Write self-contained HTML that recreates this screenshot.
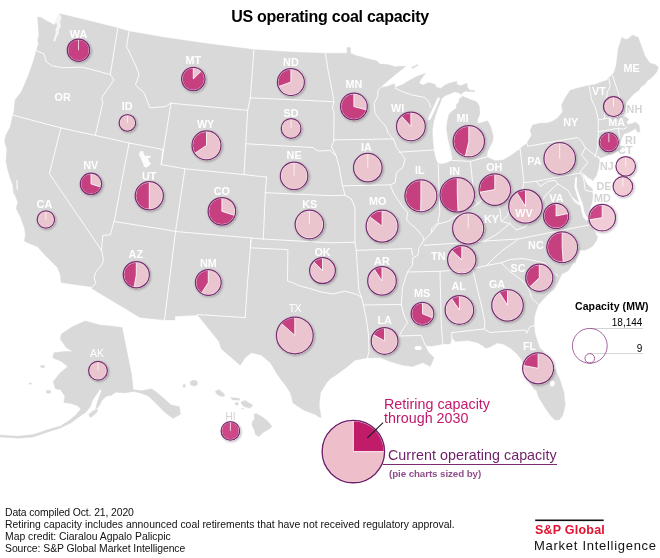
<!DOCTYPE html>
<html lang="en">
<head>
<meta charset="utf-8">
<title>US operating coal capacity</title>
<style>
html,body{margin:0;padding:0;background:#fff;}
body{width:660px;height:558px;position:relative;overflow:hidden;font-family:"Liberation Sans",sans-serif;color:#111;}
.t{position:absolute;white-space:nowrap;line-height:1;will-change:transform;}
#title{left:0;width:660px;top:9.4px;text-align:center;font-weight:bold;font-size:16px;letter-spacing:-0.26px;color:#000;}
.foot{font-size:10.4px;left:5px;color:#111;}
.lg1{color:#c2186b;font-size:14.3px;left:383.8px;letter-spacing:0.02px;}
.lg2{color:#6f1f68;font-size:14.3px;left:387.8px;letter-spacing:0.04px;}
.lg3{color:#8d4f8a;font-size:9.8px;font-weight:bold;left:388.5px;letter-spacing:-0.1px;}
.cap{font-weight:bold;font-size:10.5px;color:#000;letter-spacing:0.1px;}
.num{font-size:10px;color:#000;text-align:right;}
.sp1{color:#e21230;font-weight:bold;font-size:12.5px;left:534.6px;top:524px;letter-spacing:0.22px;}
.sp2{color:#111;font-size:13px;left:534.4px;top:539.2px;letter-spacing:0.72px;}
</style>
</head>
<body>
<svg width="660" height="558" viewBox="0 0 660 558" style="position:absolute;left:0;top:0;will-change:transform">
<defs><filter id="sh" x="-30%" y="-30%" width="160%" height="160%"><feComponentTransfer in="SourceAlpha" result="sa"><feFuncA type="linear" slope="6"/></feComponentTransfer><feGaussianBlur in="sa" stdDeviation="1.1" result="b"/><feOffset in="b" dx="0.8" dy="1" result="o"/><feComposite in="o" in2="sa" operator="out" result="so"/><feComponentTransfer in="so" result="s2"><feFuncA type="linear" slope="0.24"/></feComponentTransfer><feMerge><feMergeNode in="s2"/><feMergeNode in="SourceGraphic"/></feMerge></filter></defs>
<g fill="#d9d9d9" stroke="#d9d9d9" stroke-width="0.4" stroke-linejoin="round">
<polygon points="37.6,17.0 41.0,17.5 46.0,20.5 51.0,23.0 53.5,24.5 55.5,21.0 58.0,17.0 59.5,14.0 61.0,14.0 90.0,21.0 118.0,28.0 129.0,31.3 165.0,37.6 210.0,44.0 254.0,49.6 290.0,52.0 325.5,53.2 347.0,53.2 347.0,47.6 350.5,47.6 350.5,53.2 356.0,55.5 362.6,57.2 370.0,59.2 376.7,60.8 380.0,64.0 385.0,64.2 390.0,65.0 395.0,66.7 400.0,66.2 405.8,66.3 398.0,72.5 390.0,79.0 383.0,85.0 380.8,87.5 387.0,86.5 394.2,83.7 395.3,87.6 403.3,84.2 410.0,80.0 418.3,75.8 425.8,73.3 421.0,79.0 419.2,83.3 423.3,85.0 428.3,82.5 435.0,84.2 436.7,87.5 440.8,88.3 444.2,85.4 449.2,83.3 454.2,82.1 456.7,81.3 457.1,84.6 460.8,85.8 464.2,84.2 467.1,83.3 467.5,87.5 470.0,90.3 474.8,90.6 474.6,91.8 469.2,91.5 465.0,91.3 462.1,92.9 461.3,94.6 459.2,92.9 455.0,91.7 451.7,92.9 448.3,94.6 445.0,95.8 441.8,98.6 440.2,103.0 438.2,107.7 435.6,115.0 433.6,121.4 432.4,130.0 432.8,140.0 433.8,150.0 435.5,158.0 437.3,162.6 440.5,164.0 445.0,163.6 449.0,162.0 451.7,160.3 452.5,158.3 450.8,150.0 448.3,140.0 446.4,128.6 447.3,121.4 449.1,114.1 453.0,110.5 456.3,108.0 456.5,104.2 458.8,102.5 459.2,99.2 462.5,96.3 466.7,97.9 471.7,100.0 476.7,101.7 479.2,105.8 480.0,113.3 477.5,120.0 477.5,123.3 482.5,122.5 487.5,120.8 490.8,126.7 493.3,136.7 492.5,141.7 490.0,146.7 487.5,151.7 486.7,156.7 495.0,160.8 503.3,160.0 511.7,155.0 518.3,150.0 526.7,143.3 531.7,135.0 530.1,130.4 532.6,124.9 540.0,123.3 547.7,122.9 553.0,121.0 557.7,117.9 562.7,111.6 561.4,105.3 565.0,98.0 570.2,90.3 580.0,87.5 589.0,85.3 595.0,84.4 600.0,82.5 607.5,80.0 608.2,77.7 611.9,75.2 613.8,72.7 616.3,65.1 617.0,58.9 618.2,48.8 622.0,36.9 625.1,39.4 628.2,38.8 632.6,35.0 638.3,37.5 641.4,46.3 645.2,56.3 650.2,63.3 655.2,64.5 658.4,67.0 657.1,71.4 654.0,75.2 650.2,78.9 647.7,80.2 645.2,84.0 641.4,86.5 638.9,90.2 635.2,92.7 631.4,96.5 628.5,100.0 626.4,102.5 625.2,110.0 625.8,116.3 628.9,119.5 626.4,122.0 628.3,124.5 632.0,123.6 635.2,122.0 639.0,125.1 640.2,131.4 637.7,132.6 635.6,128.6 631.4,131.0 628.3,132.6 623.9,133.9 621.4,138.9 618.9,145.2 612.0,150.0 605.0,153.3 597.5,155.9 595.5,155.2 599.5,159.7 598.7,167.7 596.3,175.8 593.0,180.6 588.0,177.5 584.2,174.0 581.8,172.0 583.5,177.0 585.5,181.5 587.5,184.7 592.3,188.7 593.0,196.8 591.5,204.0 589.7,210.0 588.2,214.7 587.6,219.0 589.0,222.5 592.0,227.5 595.5,233.0 597.6,237.3 596.5,240.8 592.3,246.5 585.3,250.3 580.0,250.0 577.0,257.0 575.2,262.9 573.3,263.3 568.3,270.8 561.7,274.2 558.3,281.7 554.2,289.2 548.3,294.2 543.3,299.2 538.3,305.0 535.8,311.7 534.2,318.3 534.2,325.8 535.0,333.3 537.5,341.7 540.0,348.3 542.6,350.2 551.4,362.7 556.0,371.0 560.2,380.3 564.0,392.8 565.2,405.4 562.7,415.4 559.0,420.0 555.2,420.0 551.4,416.7 545.2,407.9 538.9,397.8 536.4,390.3 533.5,388.5 530.3,383.0 527.0,375.0 524.2,366.0 521.8,360.0 517.0,353.9 510.9,348.6 503.6,344.2 497.6,343.0 492.7,345.5 489.0,347.5 485.5,348.3 483.0,346.0 478.2,343.0 468.5,340.6 455.4,341.4 452.5,338.0 450.0,344.0 442.8,343.9 430.3,346.5 425.3,346.5 429.0,352.7 434.1,357.7 430.3,366.5 422.8,362.7 412.7,366.5 402.7,365.3 390.2,361.5 380.2,357.7 367.6,357.7 355.0,360.2 347.6,366.5 337.5,374.0 330.0,379.0 326.7,382.8 320.5,392.8 319.2,405.4 321.2,417.8 318.0,416.6 315.5,414.6 304.2,410.4 292.9,402.9 290.4,392.8 285.4,385.3 277.8,375.3 270.3,362.7 261.5,355.2 251.5,352.7 245.2,357.7 240.2,365.3 230.2,356.5 221.4,349.0 218.9,341.4 208.9,328.9 197.6,315.1 175.0,316.3 175.0,320.0 164.5,320.0 140.0,317.5 91.8,288.6 92.4,287.0 61.1,282.5 60.2,274.0 57.4,267.4 49.8,259.9 43.3,253.3 37.6,246.7 28.2,243.0 24.4,241.1 25.4,234.5 24.4,227.9 20.7,217.6 16.0,208.2 17.9,202.5 15.0,195.0 13.6,193.6 12.8,185.1 10.2,178.3 7.7,169.7 6.0,161.2 6.8,149.3 4.5,141.0 6.0,134.8 10.2,127.1 12.8,115.2 14.0,110.9 15.0,100.1 21.5,91.5 27.9,76.5 33.3,61.5 36.5,49.7 38.5,44.0 37.8,40.0 38.9,35.0 38.3,27.0"/>
<polygon points="598.0,155.5 610.0,151.5 622.0,147.5 621.5,149.3 610.0,154.5 600.0,158.0"/>
<polygon points="85.3,320.9 100.3,325.1 115.3,326.4 122.1,327.6 131.7,375.0 133.2,389.6 141.2,390.7 151.8,388.8 160.3,395.2 170.9,404.7 179.4,406.8 180.5,414.2 173.0,418.5 164.5,412.1 156.1,403.6 148.6,396.2 141.2,393.2 133.8,391.4 124.2,393.0 115.8,392.2 111.5,395.2 106.2,396.2 102.0,400.5 98.5,407.0 95.6,408.9 97.0,403.0 99.5,396.0 101.5,390.5 100.3,388.8 98.5,391.5 94.5,397.5 92.4,400.5 90.3,406.8 86.1,412.1 79.7,416.4 71.2,422.7 60.6,428.0 50.0,431.2 33.3,437.0 18.2,438.2 0.0,436.9 0.0,435.0 18.2,436.3 33.3,434.6 50.0,429.1 60.6,425.9 69.1,420.6 75.5,415.3 80.8,408.9 77.6,405.8 71.2,403.6 63.8,402.6 64.8,396.2 60.6,389.8 55.3,388.8 53.2,381.4 60.2,372.8 67.7,366.5 61.4,361.5 52.7,357.7 53.9,352.7 63.9,351.5 72.7,351.5 66.4,347.7 60.2,338.9 61.4,333.9 72.7,326.4"/>
<polygon points="88.8,414.2 93.5,410.6 97.7,409.0 97.1,412.1 92.4,416.4 89.9,417.4"/>
<polygon points="411.5,67.6 417.5,64.4 418.2,65.4 412.6,68.6"/>
<ellipse cx="42.6" cy="366.5" rx="2.2" ry="1.2"/>
<ellipse cx="48.5" cy="391.8" rx="2.4" ry="1.6"/>
<ellipse cx="30.3" cy="383.6" rx="1.2" ry="0.8"/>
<polygon points="254.0,414.0 256.7,413.8 260.9,416.1 266.2,419.8 269.4,423.0 272.0,426.7 267.8,429.9 263.0,432.6 258.8,436.8 255.6,434.7 254.5,430.5 252.4,426.2 251.9,422.5 254.5,418.8"/>
<polygon points="241.0,402.0 245.2,400.5 249.0,403.0 252.8,405.1 250.3,408.0 245.2,407.0 242.2,405.0"/>
<polygon points="230.7,397.4 239.7,398.6 239.7,400.2 232.0,399.8"/>
<polygon points="235.0,402.8 238.0,402.5 238.2,405.0 235.8,405.2"/>
<polygon points="215.2,391.3 219.0,389.5 224.0,393.8 224.7,396.3 220.2,396.3 216.4,393.8"/>
<polygon points="190.0,382.0 193.0,380.0 197.0,381.0 197.6,384.5 194.0,386.3 190.8,385.0"/>
<polygon points="182.8,385.0 184.8,384.2 185.5,387.0 183.6,387.6"/>
<polygon points="241.5,408.2 243.5,408.2 243.0,409.6"/>
</g>
<g fill="#fff">
<polygon points="58.6,15.5 60.6,14.6 61.6,18.0 60.2,22.0 61.0,26.0 59.0,30.0 58.6,34.0 56.6,37.0 55.4,41.2 53.0,41.4 54.4,37.0 55.8,33.0 55.6,29.0 57.2,26.0 56.2,23.0 54.0,25.0 52.6,23.4 56.0,20.0" fill-opacity="0.72"/>
<polygon points="575.4,177.0 574.4,187.0 577.4,197.0 580.4,205.0 581.8,212.5 583.5,217.8 586.5,220.8 588.4,218.4 585.8,215.6 584.2,211.5 582.8,204.0 579.8,196.3 576.6,187.0 577.0,177.0"/>
<polygon points="581.0,205.5 576.0,202.0 572.0,198.0 572.5,197.2 576.6,200.8 581.5,203.8"/>
<polygon points="427.8,119.2 429.8,114.5 433.3,107.0 437.3,98.6 438.8,96.9 439.9,98.4 436.3,107.3 432.4,115.5 429.8,120.2"/>
<polygon points="139.8,151.4 143.2,151.0 143.9,154.0 145.5,156.3 147.0,155.5 150.8,156.3 150.4,157.8 147.7,158.2 149.2,161.6 151.1,163.5 149.2,165.8 146.2,167.7 143.9,166.5 142.8,162.7 141.3,159.7 140.5,156.7 139.0,155.9 139.4,153.3" fill-opacity="0.9"/>
<polygon points="16.2,180.0 17.6,180.6 17.9,190.0 16.6,189.4" fill-opacity="0.8"/>
<ellipse cx="552.3" cy="383.5" rx="2.4" ry="2.9"/>
<ellipse cx="418.2" cy="348" rx="3.6" ry="2"/>
</g>
<g fill="none" stroke="#fff" stroke-width="0.9" stroke-linejoin="round" stroke-linecap="round">
<polyline points="36.5,50.7 44.0,54.0 46.2,61.5 51.5,65.8 62.7,67.7 82.7,67.2 110.3,74.5"/>
<polyline points="117.8,28.0 110.3,74.5"/>
<polyline points="129.0,31.3 126.6,46.4 136.7,67.7 139.0,75.0 135.4,85.0 144.0,92.8 150.0,107.8 165.5,106.6 170.5,103.2"/>
<polyline points="110.3,74.5 114.0,80.0 101.5,97.8 102.8,102.8 95.3,135.4"/>
<polyline points="12.5,115.0 60.9,127.9 95.3,135.4 129.1,143.0 162.9,149.5"/>
<polyline points="60.9,127.9 49.4,173.8 101.5,250.3"/>
<polyline points="101.5,250.3 103.4,258.9 102.5,263.7 95.9,272.1 94.0,277.8 95.9,283.4 92.4,287.0"/>
<polyline points="129.1,143.0 114.1,221.5 110.3,234.8 102.8,235.3 101.5,250.3"/>
<polyline points="114.1,221.5 165.0,229.5 175.5,231.5 263.3,239.0 330.0,242.8 355.0,242.3"/>
<polyline points="171.0,103.0 161.2,164.6 185.0,168.8 244.0,174.6 266.6,177.1"/>
<polyline points="162.9,149.5 161.2,164.6"/>
<polyline points="185.0,168.8 175.5,231.5 164.5,320.0"/>
<polyline points="170.5,103.2 247.7,110.3"/>
<polyline points="254.0,49.6 250.3,97.8 247.7,110.3 244.0,174.6"/>
<polyline points="250.3,97.8 330.0,101.5 334.0,102.0"/>
<polyline points="325.5,53.2 328.0,70.0 332.0,90.0 334.0,102.0 332.3,108.0 334.0,112.0 333.8,141.0"/>
<polyline points="246.5,143.8 312.9,147.5 318.0,151.0 330.0,150.5 336.0,155.5"/>
<polyline points="333.8,141.0 331.5,147.0 336.0,155.5 339.0,166.0 342.5,185.9 345.0,195.2 351.3,198.9 355.0,207.7 355.0,242.3 356.3,250.3 358.8,290.0 361.6,297.5 363.5,305.0 366.5,320.0 368.5,335.0 369.0,351.0 367.5,357.7"/>
<polyline points="266.6,177.1 265.3,192.7 263.3,239.0"/>
<polyline points="265.3,192.7 330.0,195.7 345.0,195.2"/>
<polyline points="250.8,240.0 250.3,247.8 287.9,249.6 287.5,281.0 293.0,283.0 300.0,286.0 311.5,289.0 322.0,292.2 333.0,294.0 344.5,291.2 352.0,293.0 357.3,294.6 361.6,297.5"/>
<polyline points="251.3,238.0 247.7,280.0 245.2,317.6 197.5,314.5"/>
<polyline points="333.8,139.9 393.5,138.9"/>
<polyline points="342.5,185.9 390.2,184.8"/>
<polyline points="380.8,87.5 378.3,90.0 377.5,96.7 374.2,103.3 375.0,113.3 380.0,120.0 385.8,126.7 388.3,133.0 394.0,140.0 396.5,147.5 405.2,158.8 402.7,167.6 396.4,172.6 395.2,182.6 390.2,185.1 394.0,194.0 401.5,205.2 407.7,212.7 406.5,220.2 416.5,229.0 422.8,236.5 424.0,240.3 419.0,247.8 417.8,255.3 412.7,257.8 412.5,265.0 407.5,272.0 402.5,287.5 401.3,304.5 403.8,315.0 407.5,322.5 402.5,330.0 399.0,336.0 421.4,335.3 423.5,341.0 425.6,345.9 430.3,346.5"/>
<polyline points="399.0,152.2 433.6,150.0"/>
<polyline points="395.0,88.0 402.0,91.5 412.0,95.0 425.0,97.5 429.2,102.5 430.5,107.5"/>
<polyline points="438.2,163.8 439.8,212.7 437.8,222.7 431.6,229.0 431.6,232.8"/>
<polyline points="424.0,240.3 431.6,232.8 437.8,224.0 447.9,221.5 455.4,216.5 465.0,212.0 477.9,203.9 483.0,199.0 495.0,201.4 500.0,210.0 501.3,221.5 510.0,223.5"/>
<polyline points="470.4,161.3 474.2,197.7 477.9,203.9"/>
<polyline points="451.7,160.5 470.4,161.3 486.7,157.0"/>
<polyline points="424.0,245.3 470.0,242.3 485.0,241.0 518.3,239.0 546.7,233.3 589.0,225.0"/>
<polyline points="356.3,250.4 411.5,248.5 412.7,255.3"/>
<polyline points="363.8,305.0 401.3,304.5"/>
<polyline points="407.5,272.0 440.0,271.3 472.5,268.8 486.7,265.5 493.0,259.0 503.0,250.0 513.0,243.0 518.3,239.0"/>
<polyline points="486.7,265.5 501.7,262.7"/>
<polyline points="440.0,271.3 441.3,325.0 442.8,343.9"/>
<polyline points="472.5,268.8 481.3,305.0 485.0,322.5 484.2,328.9"/>
<polyline points="452.0,341.0 451.6,332.7 484.2,328.9 490.0,332.5 525.8,330.0 526.7,333.3 530.0,326.7 534.2,325.8"/>
<polyline points="501.7,262.7 503.3,265.0 510.0,271.7 518.3,277.5 525.0,283.0 529.5,291.0 531.7,298.3 538.3,304.2"/>
<polyline points="501.7,262.7 510.0,259.5 523.0,258.5 531.0,260.0 545.0,263.0 553.0,271.5 557.5,276.0"/>
<polyline points="510.0,223.5 497.0,234.0 485.0,241.0"/>
<polyline points="510.0,223.5 516.0,230.0 525.0,227.0 533.0,217.0 540.0,205.0 545.0,196.0 552.0,189.0 557.8,183.9"/>
<polyline points="523.9,182.7 521.4,192.7 510.1,205.2 507.6,215.3 501.3,221.5"/>
<polyline points="518.3,150.0 520.2,148.8 523.9,182.7 536.4,181.2 580.3,173.0"/>
<polyline points="536.4,181.2 540.2,186.4 547.7,181.4 555.3,180.2 557.8,183.9 567.8,190.2 575.3,202.7 580.3,205.2"/>
<polyline points="526.4,141.8 527.7,146.3 577.8,137.5 581.6,141.3 585.3,147.6 581.6,155.1 587.9,162.6 580.3,171.4 581.3,174.5"/>
<polyline points="585.3,147.6 595.8,156.0"/>
<polyline points="589.0,85.3 591.7,100.0 595.8,108.3 598.3,120.0 598.3,133.3 597.5,148.3 595.0,156.7"/>
<polyline points="598.3,120.0 623.3,115.0 628.0,117.5"/>
<polyline points="598.3,131.7 618.3,128.3 623.3,129.2 627.0,127.0"/>
<polyline points="618.3,128.3 619.7,138.5"/>
<polyline points="608.8,77.7 610.1,86.5 607.5,91.5 606.0,100.0 605.0,110.0 604.5,119.0"/>
<polyline points="612.6,75.8 618.2,92.7 620.1,100.0 622.5,110.0 625.6,116.0"/>
<polyline points="581.3,174.5 583.5,178.0 585.3,190.2 595.4,192.7"/>
</g>
<g font-family="Liberation Sans, sans-serif" font-weight="bold" font-size="10.8" text-anchor="middle">
<text x="78.5" y="37.8" fill="#ffffff">WA</text>
<text x="62.7" y="100.9" fill="#ffffff">OR</text>
<text x="127.2" y="109.9" fill="#ffffff">ID</text>
<text x="193.3" y="64.1" fill="#ffffff">MT</text>
<text x="290.9" y="65.9" fill="#ffffff">ND</text>
<text x="291.1" y="117.2" fill="#ffffff">SD</text>
<text x="205.6" y="127.8" fill="#ffffff">WY</text>
<text x="353.8" y="87.9" fill="#ffffff">MN</text>
<text x="397.7" y="112.2" fill="#ffffff">WI</text>
<text x="462.4" y="121.8" fill="#ffffff">MI</text>
<text x="631.7" y="72.1" fill="#ffffff">ME</text>
<text x="599.0" y="95.4" fill="#ffffff">VT</text>
<text x="570.8" y="125.9" fill="#ffffff">NY</text>
<text x="616.7" y="126.4" fill="#ffffff">MA</text>
<text x="634.4" y="113.1" fill="#d4d4d4">NH</text>
<text x="630.5" y="143.9" fill="#d4d4d4">RI</text>
<text x="625.3" y="154.1" fill="#d4d4d4">CT</text>
<text x="606.8" y="169.9" fill="#d4d4d4">NJ</text>
<text x="604.0" y="190.1" fill="#d4d4d4">DE</text>
<text x="602.3" y="202.1" fill="#d4d4d4">MD</text>
<text x="90.8" y="169.0" fill="#ffffff">NV</text>
<text x="44.4" y="207.8" fill="#ffffff">CA</text>
<text x="149.2" y="180.3" fill="#ffffff">UT</text>
<text x="135.8" y="258.2" fill="#ffffff">AZ</text>
<text x="294.1" y="159.4" fill="#ffffff">NE</text>
<text x="221.9" y="195.3" fill="#ffffff">CO</text>
<text x="309.7" y="208.3" fill="#ffffff">KS</text>
<text x="208.3" y="266.9" fill="#ffffff">NM</text>
<text x="322.5" y="256.0" fill="#ffffff">OK</text>
<text x="366.4" y="150.9" fill="#ffffff">IA</text>
<text x="419.8" y="174.0" fill="#ffffff">IL</text>
<text x="454.6" y="174.7" fill="#ffffff">IN</text>
<text x="494.3" y="171.0" fill="#ffffff">OH</text>
<text x="534.4" y="165.2" fill="#ffffff">PA</text>
<text x="377.6" y="204.8" fill="#ffffff">MO</text>
<text x="491.5" y="222.9" fill="#ffffff">KY</text>
<text x="438.3" y="259.7" fill="#ffffff">TN</text>
<text x="381.9" y="265.0" fill="#ffffff">AR</text>
<text x="556.4" y="202.1" fill="#ffffff">VA</text>
<text x="535.9" y="248.7" fill="#ffffff">NC</text>
<text x="518.0" y="271.9" fill="#ffffff">SC</text>
<text x="497.0" y="288.4" fill="#ffffff">GA</text>
<text x="294.9" y="311.9" fill="#ffffff" font-weight="normal" font-size="10.6" letter-spacing="-0.6">TX</text>
<text x="384.7" y="324.0" fill="#ffffff">LA</text>
<text x="422.0" y="296.9" fill="#ffffff">MS</text>
<text x="458.6" y="290.2" fill="#ffffff">AL</text>
<text x="529.5" y="350.0" fill="#ffffff">FL</text>
<text x="97.0" y="356.9" fill="#ffffff" font-weight="normal" font-size="10.5">AK</text>
<text x="230.4" y="419.6" fill="#d4d4d4" font-weight="normal" font-size="10.5">HI</text>
</g>
<g filter="url(#sh)">
<g opacity="0.8">
<circle cx="78.5" cy="50.2" r="11.18" fill="#c11c6a"/>
</g>
<path d="M78.5,50.2 L78.5,39.03" fill="none" stroke="#fff" stroke-width="0.8" stroke-opacity="0.9"/>
<circle cx="78.5" cy="50.2" r="10.68" fill="none" stroke="#fff" stroke-width="0.8" stroke-opacity="0.9"/>
<circle cx="78.5" cy="50.2" r="11.18" fill="none" stroke="#792d71" stroke-width="1.25"/>
<g opacity="0.8">
<circle cx="193.3" cy="79.0" r="11.68" fill="#eebfcb"/>
<path d="M193.3,79.0 L201.56,70.74 A11.68,11.68 0 1 1 193.30,67.33 Z" fill="#c11c6a"/>
</g>
<path d="M201.56,70.74 L193.3,79.0 L193.30,67.33" fill="none" stroke="#fff" stroke-width="0.9" stroke-opacity="0.95"/>
<circle cx="193.3" cy="79.0" r="11.18" fill="none" stroke="#fff" stroke-width="0.8" stroke-opacity="0.9"/>
<circle cx="193.3" cy="79.0" r="11.68" fill="none" stroke="#792d71" stroke-width="1.25"/>
<g opacity="0.8">
<circle cx="290.9" cy="82.1" r="13.47" fill="#eebfcb"/>
<path d="M290.9,82.1 L278.22,86.66 A13.47,13.47 0 0 1 290.90,68.62 Z" fill="#c11c6a"/>
</g>
<path d="M278.22,86.66 L290.9,82.1 L290.90,68.62" fill="none" stroke="#fff" stroke-width="0.9" stroke-opacity="0.95"/>
<circle cx="290.9" cy="82.1" r="12.97" fill="none" stroke="#fff" stroke-width="0.8" stroke-opacity="0.9"/>
<circle cx="290.9" cy="82.1" r="13.47" fill="none" stroke="#792d71" stroke-width="1.25"/>
<g opacity="0.8">
<circle cx="353.9" cy="106.6" r="13.38" fill="#eebfcb"/>
<path d="M353.9,106.6 L366.85,109.93 A13.38,13.38 0 1 1 353.90,93.22 Z" fill="#c11c6a"/>
</g>
<path d="M366.85,109.93 L353.9,106.6 L353.90,93.22" fill="none" stroke="#fff" stroke-width="0.9" stroke-opacity="0.95"/>
<circle cx="353.9" cy="106.6" r="12.88" fill="none" stroke="#fff" stroke-width="0.8" stroke-opacity="0.9"/>
<circle cx="353.9" cy="106.6" r="13.38" fill="none" stroke="#792d71" stroke-width="1.25"/>
<g opacity="0.8">
<circle cx="410.9" cy="126.4" r="14.38" fill="#eebfcb"/>
<path d="M410.9,126.4 L401.13,115.86 A14.38,14.38 0 0 1 410.90,112.03 Z" fill="#c11c6a"/>
</g>
<path d="M401.13,115.86 L410.9,126.4 L410.90,112.03" fill="none" stroke="#fff" stroke-width="0.9" stroke-opacity="0.95"/>
<circle cx="410.9" cy="126.4" r="13.88" fill="none" stroke="#fff" stroke-width="0.8" stroke-opacity="0.9"/>
<circle cx="410.9" cy="126.4" r="14.38" fill="none" stroke="#792d71" stroke-width="1.25"/>
<g opacity="0.8">
<circle cx="468.8" cy="141.3" r="15.68" fill="#eebfcb"/>
<path d="M468.8,141.3 L465.28,156.58 A15.68,15.68 0 0 1 468.80,125.63 Z" fill="#c11c6a"/>
</g>
<path d="M465.28,156.58 L468.8,141.3 L468.80,125.63" fill="none" stroke="#fff" stroke-width="0.9" stroke-opacity="0.95"/>
<circle cx="468.8" cy="141.3" r="15.18" fill="none" stroke="#fff" stroke-width="0.8" stroke-opacity="0.9"/>
<circle cx="468.8" cy="141.3" r="15.68" fill="none" stroke="#792d71" stroke-width="1.25"/>
<g opacity="0.8">
<circle cx="127.4" cy="122.9" r="8.28" fill="#eebfcb"/>
</g>
<path d="M127.4,122.9 L127.4,114.62" fill="none" stroke="#fff" stroke-width="0.8" stroke-opacity="0.9"/>
<circle cx="127.4" cy="122.9" r="7.78" fill="none" stroke="#fff" stroke-width="0.8" stroke-opacity="0.9"/>
<circle cx="127.4" cy="122.9" r="8.28" fill="none" stroke="#792d71" stroke-width="1.25"/>
<g opacity="0.8">
<circle cx="206.5" cy="145.4" r="14.47" fill="#eebfcb"/>
<path d="M206.5,145.4 L194.53,153.54 A14.47,14.47 0 0 1 206.50,130.93 Z" fill="#c11c6a"/>
</g>
<path d="M194.53,153.54 L206.5,145.4 L206.50,130.93" fill="none" stroke="#fff" stroke-width="0.9" stroke-opacity="0.95"/>
<circle cx="206.5" cy="145.4" r="13.97" fill="none" stroke="#fff" stroke-width="0.8" stroke-opacity="0.9"/>
<circle cx="206.5" cy="145.4" r="14.47" fill="none" stroke="#792d71" stroke-width="1.25"/>
<g opacity="0.8">
<circle cx="291.1" cy="128.4" r="9.88" fill="#eebfcb"/>
</g>
<path d="M291.1,128.4 L291.1,118.53" fill="none" stroke="#fff" stroke-width="0.8" stroke-opacity="0.9"/>
<circle cx="291.1" cy="128.4" r="9.38" fill="none" stroke="#fff" stroke-width="0.8" stroke-opacity="0.9"/>
<circle cx="291.1" cy="128.4" r="9.88" fill="none" stroke="#792d71" stroke-width="1.25"/>
<g opacity="0.8">
<circle cx="294.1" cy="175.9" r="13.78" fill="#eebfcb"/>
</g>
<path d="M294.1,175.9 L294.1,162.12" fill="none" stroke="#fff" stroke-width="0.8" stroke-opacity="0.9"/>
<circle cx="294.1" cy="175.9" r="13.28" fill="none" stroke="#fff" stroke-width="0.8" stroke-opacity="0.9"/>
<circle cx="294.1" cy="175.9" r="13.78" fill="none" stroke="#792d71" stroke-width="1.25"/>
<g opacity="0.8">
<circle cx="367.8" cy="167.7" r="14.28" fill="#eebfcb"/>
</g>
<path d="M367.8,167.7 L367.8,153.42" fill="none" stroke="#fff" stroke-width="0.8" stroke-opacity="0.9"/>
<circle cx="367.8" cy="167.7" r="13.78" fill="none" stroke="#fff" stroke-width="0.8" stroke-opacity="0.9"/>
<circle cx="367.8" cy="167.7" r="14.28" fill="none" stroke="#792d71" stroke-width="1.25"/>
<g opacity="0.8">
<circle cx="420.9" cy="195.8" r="15.97" fill="#eebfcb"/>
<path d="M420.9,195.8 L420.70,211.77 A15.97,15.97 0 0 1 420.90,179.83 Z" fill="#c11c6a"/>
</g>
<path d="M420.70,211.77 L420.9,195.8 L420.90,179.83" fill="none" stroke="#fff" stroke-width="0.9" stroke-opacity="0.95"/>
<circle cx="420.9" cy="195.8" r="15.47" fill="none" stroke="#fff" stroke-width="0.8" stroke-opacity="0.9"/>
<circle cx="420.9" cy="195.8" r="15.97" fill="none" stroke="#792d71" stroke-width="1.25"/>
<g opacity="0.8">
<circle cx="457.3" cy="194.8" r="17.27" fill="#eebfcb"/>
<path d="M457.3,194.8 L458.06,212.06 A17.27,17.27 0 1 1 457.30,177.53 Z" fill="#c11c6a"/>
</g>
<path d="M458.06,212.06 L457.3,194.8 L457.30,177.53" fill="none" stroke="#fff" stroke-width="0.9" stroke-opacity="0.95"/>
<circle cx="457.3" cy="194.8" r="16.77" fill="none" stroke="#fff" stroke-width="0.8" stroke-opacity="0.9"/>
<circle cx="457.3" cy="194.8" r="17.27" fill="none" stroke="#792d71" stroke-width="1.25"/>
<g opacity="0.8">
<circle cx="494.8" cy="189.6" r="15.77" fill="#eebfcb"/>
<path d="M494.8,189.6 L479.27,192.36 A15.77,15.77 0 0 1 494.80,173.82 Z" fill="#c11c6a"/>
</g>
<path d="M479.27,192.36 L494.8,189.6 L494.80,173.82" fill="none" stroke="#fff" stroke-width="0.9" stroke-opacity="0.95"/>
<circle cx="494.8" cy="189.6" r="15.27" fill="none" stroke="#fff" stroke-width="0.8" stroke-opacity="0.9"/>
<circle cx="494.8" cy="189.6" r="15.77" fill="none" stroke="#792d71" stroke-width="1.25"/>
<g opacity="0.8">
<circle cx="559.7" cy="158.5" r="15.77" fill="#eebfcb"/>
</g>
<path d="M559.7,158.5 L559.7,142.72" fill="none" stroke="#fff" stroke-width="0.8" stroke-opacity="0.9"/>
<circle cx="559.7" cy="158.5" r="15.27" fill="none" stroke="#fff" stroke-width="0.8" stroke-opacity="0.9"/>
<circle cx="559.7" cy="158.5" r="15.77" fill="none" stroke="#792d71" stroke-width="1.25"/>
<g opacity="0.8">
<circle cx="613.5" cy="106.6" r="9.97" fill="#eebfcb"/>
</g>
<path d="M613.5,106.6 L613.5,96.62" fill="none" stroke="#fff" stroke-width="0.8" stroke-opacity="0.9"/>
<circle cx="613.5" cy="106.6" r="9.47" fill="none" stroke="#fff" stroke-width="0.8" stroke-opacity="0.9"/>
<circle cx="613.5" cy="106.6" r="9.97" fill="none" stroke="#792d71" stroke-width="1.25"/>
<g opacity="0.8">
<circle cx="608.8" cy="142.2" r="9.58" fill="#c11c6a"/>
</g>
<path d="M608.8,142.2 L608.8,132.62" fill="none" stroke="#fff" stroke-width="0.8" stroke-opacity="0.9"/>
<circle cx="608.8" cy="142.2" r="9.08" fill="none" stroke="#fff" stroke-width="0.8" stroke-opacity="0.9"/>
<circle cx="608.8" cy="142.2" r="9.58" fill="none" stroke="#792d71" stroke-width="1.25"/>
<g opacity="0.8">
<circle cx="625.7" cy="166.3" r="9.78" fill="#eebfcb"/>
</g>
<path d="M625.7,166.3 L625.7,156.53" fill="none" stroke="#fff" stroke-width="0.8" stroke-opacity="0.9"/>
<circle cx="625.7" cy="166.3" r="9.28" fill="none" stroke="#fff" stroke-width="0.8" stroke-opacity="0.9"/>
<circle cx="625.7" cy="166.3" r="9.78" fill="none" stroke="#792d71" stroke-width="1.25"/>
<g opacity="0.8">
<circle cx="622.9" cy="186.5" r="9.78" fill="#eebfcb"/>
</g>
<path d="M622.9,186.5 L622.9,176.72" fill="none" stroke="#fff" stroke-width="0.8" stroke-opacity="0.9"/>
<circle cx="622.9" cy="186.5" r="9.28" fill="none" stroke="#fff" stroke-width="0.8" stroke-opacity="0.9"/>
<circle cx="622.9" cy="186.5" r="9.78" fill="none" stroke="#792d71" stroke-width="1.25"/>
<g opacity="0.8">
<circle cx="602.2" cy="217.7" r="13.28" fill="#eebfcb"/>
<path d="M602.2,217.7 L589.10,219.86 A13.28,13.28 0 0 1 602.20,204.42 Z" fill="#c11c6a"/>
</g>
<path d="M589.10,219.86 L602.2,217.7 L602.20,204.42" fill="none" stroke="#fff" stroke-width="0.9" stroke-opacity="0.95"/>
<circle cx="602.2" cy="217.7" r="12.78" fill="none" stroke="#fff" stroke-width="0.8" stroke-opacity="0.9"/>
<circle cx="602.2" cy="217.7" r="13.28" fill="none" stroke="#792d71" stroke-width="1.25"/>
<g opacity="0.8">
<circle cx="525.5" cy="206.4" r="16.77" fill="#eebfcb"/>
<path d="M525.5,206.4 L516.51,192.24 A16.77,16.77 0 0 1 525.50,189.62 Z" fill="#c11c6a"/>
</g>
<path d="M516.51,192.24 L525.5,206.4 L525.50,189.62" fill="none" stroke="#fff" stroke-width="0.9" stroke-opacity="0.95"/>
<circle cx="525.5" cy="206.4" r="16.27" fill="none" stroke="#fff" stroke-width="0.8" stroke-opacity="0.9"/>
<circle cx="525.5" cy="206.4" r="16.77" fill="none" stroke="#792d71" stroke-width="1.25"/>
<g opacity="0.8">
<circle cx="556.1" cy="216.0" r="12.58" fill="#eebfcb"/>
<path d="M556.1,216.0 L568.41,213.41 A12.58,12.58 0 1 1 556.10,203.43 Z" fill="#c11c6a"/>
</g>
<path d="M568.41,213.41 L556.1,216.0 L556.10,203.43" fill="none" stroke="#fff" stroke-width="0.9" stroke-opacity="0.95"/>
<circle cx="556.1" cy="216.0" r="12.08" fill="none" stroke="#fff" stroke-width="0.8" stroke-opacity="0.9"/>
<circle cx="556.1" cy="216.0" r="12.58" fill="none" stroke="#792d71" stroke-width="1.25"/>
<g opacity="0.8">
<circle cx="562.2" cy="247.2" r="15.38" fill="#eebfcb"/>
<path d="M562.2,247.2 L563.26,262.54 A15.38,15.38 0 1 1 562.20,231.82 Z" fill="#c11c6a"/>
</g>
<path d="M563.26,262.54 L562.2,247.2 L562.20,231.82" fill="none" stroke="#fff" stroke-width="0.9" stroke-opacity="0.95"/>
<circle cx="562.2" cy="247.2" r="14.88" fill="none" stroke="#fff" stroke-width="0.8" stroke-opacity="0.9"/>
<circle cx="562.2" cy="247.2" r="15.38" fill="none" stroke="#792d71" stroke-width="1.25"/>
<g opacity="0.8">
<circle cx="468.2" cy="228.5" r="15.57" fill="#eebfcb"/>
</g>
<path d="M468.2,228.5 L468.2,212.93" fill="none" stroke="#fff" stroke-width="0.8" stroke-opacity="0.9"/>
<circle cx="468.2" cy="228.5" r="15.07" fill="none" stroke="#fff" stroke-width="0.8" stroke-opacity="0.9"/>
<circle cx="468.2" cy="228.5" r="15.57" fill="none" stroke="#792d71" stroke-width="1.25"/>
<g opacity="0.8">
<circle cx="461.8" cy="259.8" r="14.18" fill="#eebfcb"/>
<path d="M461.8,259.8 L451.47,250.10 A14.18,14.18 0 0 1 461.80,245.62 Z" fill="#c11c6a"/>
</g>
<path d="M451.47,250.10 L461.8,259.8 L461.80,245.62" fill="none" stroke="#fff" stroke-width="0.9" stroke-opacity="0.95"/>
<circle cx="461.8" cy="259.8" r="13.68" fill="none" stroke="#fff" stroke-width="0.8" stroke-opacity="0.9"/>
<circle cx="461.8" cy="259.8" r="14.18" fill="none" stroke="#792d71" stroke-width="1.25"/>
<g opacity="0.8">
<circle cx="382.1" cy="226.2" r="15.97" fill="#eebfcb"/>
<path d="M382.1,226.2 L369.42,216.49 A15.97,15.97 0 0 1 382.10,210.22 Z" fill="#c11c6a"/>
</g>
<path d="M369.42,216.49 L382.1,226.2 L382.10,210.22" fill="none" stroke="#fff" stroke-width="0.9" stroke-opacity="0.95"/>
<circle cx="382.1" cy="226.2" r="15.47" fill="none" stroke="#fff" stroke-width="0.8" stroke-opacity="0.9"/>
<circle cx="382.1" cy="226.2" r="15.97" fill="none" stroke="#792d71" stroke-width="1.25"/>
<g opacity="0.8">
<circle cx="309.4" cy="224.5" r="14.28" fill="#eebfcb"/>
</g>
<path d="M309.4,224.5 L309.4,210.22" fill="none" stroke="#fff" stroke-width="0.8" stroke-opacity="0.9"/>
<circle cx="309.4" cy="224.5" r="13.78" fill="none" stroke="#fff" stroke-width="0.8" stroke-opacity="0.9"/>
<circle cx="309.4" cy="224.5" r="14.28" fill="none" stroke="#792d71" stroke-width="1.25"/>
<g opacity="0.8">
<circle cx="221.9" cy="211.3" r="13.78" fill="#eebfcb"/>
<path d="M221.9,211.3 L235.00,215.56 A13.78,13.78 0 1 1 221.90,197.53 Z" fill="#c11c6a"/>
</g>
<path d="M235.00,215.56 L221.9,211.3 L221.90,197.53" fill="none" stroke="#fff" stroke-width="0.9" stroke-opacity="0.95"/>
<circle cx="221.9" cy="211.3" r="13.28" fill="none" stroke="#fff" stroke-width="0.8" stroke-opacity="0.9"/>
<circle cx="221.9" cy="211.3" r="13.78" fill="none" stroke="#792d71" stroke-width="1.25"/>
<g opacity="0.8">
<circle cx="149.3" cy="195.8" r="14.08" fill="#eebfcb"/>
<path d="M149.3,195.8 L149.30,209.88 A14.08,14.08 0 0 1 149.30,181.73 Z" fill="#c11c6a"/>
</g>
<path d="M149.30,209.88 L149.3,195.8 L149.30,181.73" fill="none" stroke="#fff" stroke-width="0.9" stroke-opacity="0.95"/>
<circle cx="149.3" cy="195.8" r="13.58" fill="none" stroke="#fff" stroke-width="0.8" stroke-opacity="0.9"/>
<circle cx="149.3" cy="195.8" r="14.08" fill="none" stroke="#792d71" stroke-width="1.25"/>
<g opacity="0.8">
<circle cx="91.0" cy="183.9" r="10.68" fill="#eebfcb"/>
<path d="M91.0,183.9 L101.15,187.20 A10.68,10.68 0 1 1 91.00,173.22 Z" fill="#c11c6a"/>
</g>
<path d="M101.15,187.20 L91.0,183.9 L91.00,173.22" fill="none" stroke="#fff" stroke-width="0.9" stroke-opacity="0.95"/>
<circle cx="91.0" cy="183.9" r="10.18" fill="none" stroke="#fff" stroke-width="0.8" stroke-opacity="0.9"/>
<circle cx="91.0" cy="183.9" r="10.68" fill="none" stroke="#792d71" stroke-width="1.25"/>
<g opacity="0.8">
<circle cx="45.9" cy="219.5" r="8.68" fill="#eebfcb"/>
</g>
<path d="M45.9,219.5 L45.9,210.82" fill="none" stroke="#fff" stroke-width="0.8" stroke-opacity="0.9"/>
<circle cx="45.9" cy="219.5" r="8.18" fill="none" stroke="#fff" stroke-width="0.8" stroke-opacity="0.9"/>
<circle cx="45.9" cy="219.5" r="8.68" fill="none" stroke="#792d71" stroke-width="1.25"/>
<g opacity="0.8">
<circle cx="136.3" cy="274.8" r="13.08" fill="#eebfcb"/>
<path d="M136.3,274.8 L134.09,287.69 A13.08,13.08 0 0 1 136.30,261.73 Z" fill="#c11c6a"/>
</g>
<path d="M134.09,287.69 L136.3,274.8 L136.30,261.73" fill="none" stroke="#fff" stroke-width="0.9" stroke-opacity="0.95"/>
<circle cx="136.3" cy="274.8" r="12.58" fill="none" stroke="#fff" stroke-width="0.8" stroke-opacity="0.9"/>
<circle cx="136.3" cy="274.8" r="13.08" fill="none" stroke="#792d71" stroke-width="1.25"/>
<g opacity="0.8">
<circle cx="208.3" cy="282.5" r="12.88" fill="#eebfcb"/>
<path d="M208.3,282.5 L201.40,293.37 A12.88,12.88 0 0 1 208.30,269.62 Z" fill="#c11c6a"/>
</g>
<path d="M201.40,293.37 L208.3,282.5 L208.30,269.62" fill="none" stroke="#fff" stroke-width="0.9" stroke-opacity="0.95"/>
<circle cx="208.3" cy="282.5" r="12.38" fill="none" stroke="#fff" stroke-width="0.8" stroke-opacity="0.9"/>
<circle cx="208.3" cy="282.5" r="12.88" fill="none" stroke="#792d71" stroke-width="1.25"/>
<g opacity="0.8">
<circle cx="322.5" cy="270.6" r="12.88" fill="#eebfcb"/>
<path d="M322.5,270.6 L313.40,261.50 A12.88,12.88 0 0 1 322.50,257.73 Z" fill="#c11c6a"/>
</g>
<path d="M313.40,261.50 L322.5,270.6 L322.50,257.73" fill="none" stroke="#fff" stroke-width="0.9" stroke-opacity="0.95"/>
<circle cx="322.5" cy="270.6" r="12.38" fill="none" stroke="#fff" stroke-width="0.8" stroke-opacity="0.9"/>
<circle cx="322.5" cy="270.6" r="12.88" fill="none" stroke="#792d71" stroke-width="1.25"/>
<g opacity="0.8">
<circle cx="382.0" cy="280.9" r="14.28" fill="#eebfcb"/>
<path d="M382.0,280.9 L374.05,269.04 A14.28,14.28 0 0 1 382.00,266.62 Z" fill="#c11c6a"/>
</g>
<path d="M374.05,269.04 L382.0,280.9 L382.00,266.62" fill="none" stroke="#fff" stroke-width="0.9" stroke-opacity="0.95"/>
<circle cx="382.0" cy="280.9" r="13.78" fill="none" stroke="#fff" stroke-width="0.8" stroke-opacity="0.9"/>
<circle cx="382.0" cy="280.9" r="14.28" fill="none" stroke="#792d71" stroke-width="1.25"/>
<g opacity="0.8">
<circle cx="294.8" cy="335.4" r="18.38" fill="#eebfcb"/>
<path d="M294.8,335.4 L281.09,323.16 A18.38,18.38 0 0 1 294.80,317.02 Z" fill="#c11c6a"/>
</g>
<path d="M281.09,323.16 L294.8,335.4 L294.80,317.02" fill="none" stroke="#fff" stroke-width="0.9" stroke-opacity="0.95"/>
<circle cx="294.8" cy="335.4" r="17.88" fill="none" stroke="#fff" stroke-width="0.8" stroke-opacity="0.9"/>
<circle cx="294.8" cy="335.4" r="18.38" fill="none" stroke="#792d71" stroke-width="1.25"/>
<g opacity="0.8">
<circle cx="384.6" cy="340.9" r="13.38" fill="#eebfcb"/>
<path d="M384.6,340.9 L372.88,334.46 A13.38,13.38 0 0 1 384.60,327.52 Z" fill="#c11c6a"/>
</g>
<path d="M372.88,334.46 L384.6,340.9 L384.60,327.52" fill="none" stroke="#fff" stroke-width="0.9" stroke-opacity="0.95"/>
<circle cx="384.6" cy="340.9" r="12.88" fill="none" stroke="#fff" stroke-width="0.8" stroke-opacity="0.9"/>
<circle cx="384.6" cy="340.9" r="13.38" fill="none" stroke="#792d71" stroke-width="1.25"/>
<g opacity="0.8">
<circle cx="422.5" cy="313.8" r="11.38" fill="#eebfcb"/>
<path d="M422.5,313.8 L433.05,318.05 A11.38,11.38 0 1 1 422.50,302.43 Z" fill="#c11c6a"/>
</g>
<path d="M433.05,318.05 L422.5,313.8 L422.50,302.43" fill="none" stroke="#fff" stroke-width="0.9" stroke-opacity="0.95"/>
<circle cx="422.5" cy="313.8" r="10.88" fill="none" stroke="#fff" stroke-width="0.8" stroke-opacity="0.9"/>
<circle cx="422.5" cy="313.8" r="11.38" fill="none" stroke="#792d71" stroke-width="1.25"/>
<g opacity="0.8">
<circle cx="459.4" cy="310.0" r="14.28" fill="#eebfcb"/>
<path d="M459.4,310.0 L451.30,298.24 A14.28,14.28 0 0 1 459.40,295.73 Z" fill="#c11c6a"/>
</g>
<path d="M451.30,298.24 L459.4,310.0 L459.40,295.73" fill="none" stroke="#fff" stroke-width="0.9" stroke-opacity="0.95"/>
<circle cx="459.4" cy="310.0" r="13.78" fill="none" stroke="#fff" stroke-width="0.8" stroke-opacity="0.9"/>
<circle cx="459.4" cy="310.0" r="14.28" fill="none" stroke="#792d71" stroke-width="1.25"/>
<g opacity="0.8">
<circle cx="507.5" cy="305.3" r="15.77" fill="#eebfcb"/>
<path d="M507.5,305.3 L499.05,291.98 A15.77,15.77 0 0 1 507.50,289.53 Z" fill="#c11c6a"/>
</g>
<path d="M499.05,291.98 L507.5,305.3 L507.50,289.53" fill="none" stroke="#fff" stroke-width="0.9" stroke-opacity="0.95"/>
<circle cx="507.5" cy="305.3" r="15.27" fill="none" stroke="#fff" stroke-width="0.8" stroke-opacity="0.9"/>
<circle cx="507.5" cy="305.3" r="15.77" fill="none" stroke="#792d71" stroke-width="1.25"/>
<g opacity="0.8">
<circle cx="539.3" cy="277.8" r="13.58" fill="#eebfcb"/>
<path d="M539.3,277.8 L529.46,287.15 A13.58,13.58 0 0 1 539.30,264.23 Z" fill="#c11c6a"/>
</g>
<path d="M529.46,287.15 L539.3,277.8 L539.30,264.23" fill="none" stroke="#fff" stroke-width="0.9" stroke-opacity="0.95"/>
<circle cx="539.3" cy="277.8" r="13.08" fill="none" stroke="#fff" stroke-width="0.8" stroke-opacity="0.9"/>
<circle cx="539.3" cy="277.8" r="13.58" fill="none" stroke="#792d71" stroke-width="1.25"/>
<g opacity="0.8">
<circle cx="538.1" cy="368.3" r="15.47" fill="#eebfcb"/>
<path d="M538.1,368.3 L522.90,365.40 A15.47,15.47 0 0 1 538.10,352.82 Z" fill="#c11c6a"/>
</g>
<path d="M522.90,365.40 L538.1,368.3 L538.10,352.82" fill="none" stroke="#fff" stroke-width="0.9" stroke-opacity="0.95"/>
<circle cx="538.1" cy="368.3" r="14.97" fill="none" stroke="#fff" stroke-width="0.8" stroke-opacity="0.9"/>
<circle cx="538.1" cy="368.3" r="15.47" fill="none" stroke="#792d71" stroke-width="1.25"/>
<g opacity="0.8">
<circle cx="98.0" cy="370.7" r="9.38" fill="#eebfcb"/>
</g>
<path d="M98.0,370.7 L98.0,361.32" fill="none" stroke="#fff" stroke-width="0.8" stroke-opacity="0.9"/>
<circle cx="98.0" cy="370.7" r="8.88" fill="none" stroke="#fff" stroke-width="0.8" stroke-opacity="0.9"/>
<circle cx="98.0" cy="370.7" r="9.38" fill="none" stroke="#792d71" stroke-width="1.25"/>
<g opacity="0.8">
<circle cx="230.4" cy="430.9" r="9.28" fill="#c11c6a"/>
</g>
<path d="M230.4,430.9 L230.4,421.62" fill="none" stroke="#fff" stroke-width="0.8" stroke-opacity="0.9"/>
<circle cx="230.4" cy="430.9" r="8.78" fill="none" stroke="#fff" stroke-width="0.8" stroke-opacity="0.9"/>
<circle cx="230.4" cy="430.9" r="9.28" fill="none" stroke="#792d71" stroke-width="1.25"/>
</g>
<text x="524.0" y="217.0" fill="#fff" font-family="Liberation Sans, sans-serif" font-weight="bold" font-size="10.8" text-anchor="middle">WV</text>
<g opacity="1">
<circle cx="353.35" cy="451.6" r="31.20" fill="#eebfcb"/>
<path d="M353.35,451.6 L353.35,420.40 A31.20,31.20 0 0 1 384.55,451.60 Z" fill="#c11c6a"/>
</g>
<path d="M353.35,420.40 L353.35,451.6 L384.55,451.60" fill="none" stroke="#fff" stroke-width="0.9" stroke-opacity="0.95"/>
<circle cx="353.35" cy="451.6" r="30.70" fill="none" stroke="#fff" stroke-width="1.0" stroke-opacity="0.75"/>
<circle cx="353.35" cy="451.6" r="31.20" fill="none" stroke="#6f1f68" stroke-width="1.4"/>
<line x1="367.3" y1="438" x2="383.1" y2="422.6" stroke="#222" stroke-width="1.1"/>
<line x1="383" y1="464.5" x2="557" y2="464.5" stroke="#7a2b73" stroke-width="1"/>
<line x1="589.8" y1="328.5" x2="643" y2="328.5" stroke="#c9c9c9" stroke-width="0.8"/>
<line x1="589.8" y1="353.6" x2="643" y2="353.6" stroke="#c9c9c9" stroke-width="0.8"/>
<circle cx="589.8" cy="345.8" r="17.4" fill="none" stroke="#8b3f86" stroke-width="0.8"/>
<circle cx="589.8" cy="358.4" r="4.8" fill="none" stroke="#8b3f86" stroke-width="0.8"/>
<rect x="535.2" y="519.5" width="68.5" height="1.6" fill="#111"/>
</svg>
<div class="t" id="title">US operating coal capacity</div>
<div class="t lg1" style="top:397.2px">Retiring capacity</div>
<div class="t lg1" style="top:411px">through 2030</div>
<div class="t lg2" style="top:447.6px">Current operating capacity</div>
<div class="t lg3" style="top:469px">(pie charts sized by)</div>
<div class="t cap" style="left:575.2px;top:301px">Capacity (MW)</div>
<div class="t num" style="left:592px;width:50.4px;top:317.6px">18,144</div>
<div class="t num" style="left:592px;width:50.4px;top:343.8px">9</div>
<div class="t foot" style="top:507.5px;letter-spacing:-0.11px">Data compiled Oct. 21, 2020</div>
<div class="t foot" style="top:520px;letter-spacing:0.01px">Retiring capacity includes announced coal retirements that have not received regulatory approval.</div>
<div class="t foot" style="top:532px;letter-spacing:-0.02px">Map credit: Ciaralou Agpalo Palicpic</div>
<div class="t foot" style="top:544px;letter-spacing:-0.055px">Source: S&amp;P Global Market Intelligence</div>
<div class="t sp1">S&amp;P Global</div>
<div class="t sp2">Market Intelligence</div>
</body>
</html>
